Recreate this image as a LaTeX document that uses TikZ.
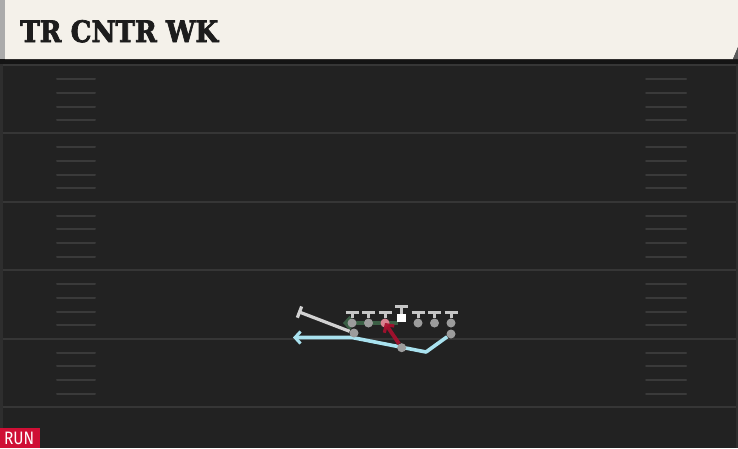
\documentclass[tikz,border=0pt]{standalone}
\usepackage{fontspec}
\usetikzlibrary{arrows.meta}
\newfontfamily\titlefont{DejaVu Serif Bold}[FakeBold=2.5]
\newfontfamily\runfont{Fira Sans}
\definecolor{fieldbg}{HTML}{222222}
\definecolor{yardcol}{HTML}{363636}
\definecolor{hashcol}{HTML}{3A3A3A}
\definecolor{edgecol}{HTML}{2E2E2E}
\definecolor{shadowcol}{HTML}{141414}
\definecolor{cream}{HTML}{F4F1EA}
\definecolor{stripcol}{HTML}{ABABAB}
\definecolor{foldcol}{HTML}{5A5A5A}
\definecolor{titlecol}{HTML}{1C1C1C}
\definecolor{runred}{HTML}{CF0F35}
\definecolor{tcol}{HTML}{C6C6C6}
\definecolor{dotcol}{HTML}{9C9C9C}
\definecolor{pinkdot}{HTML}{D98391}
\definecolor{routegray}{HTML}{D2D2D2}
\definecolor{motionblue}{HTML}{A9E2EF}
\definecolor{greencol}{HTML}{3B5F45}
\definecolor{redcol}{HTML}{A8102E}
\pgfdeclarelayer{field}
\pgfdeclarelayer{routes}
\pgfsetlayers{field,routes,main}
\begin{document}
\begin{tikzpicture}[x=1pt,y=-1pt,
  yardline/.style={draw=yardcol, line width=2pt},
  hash/.style={draw=hashcol, line width=2pt, line cap=round},
  player/.style={circle, fill=dotcol, inner sep=0pt, minimum size=9pt},
  centerbox/.style={rectangle, fill=white, inner sep=0pt, minimum size=8.5pt},
  block/.style={draw=tcol, line width=3pt, -{Bar[width=13pt,line width=3.5pt]}},
  route/.style={draw=routegray, line width=3.2pt, -{Bar[width=12pt,line width=3.2pt]}},
  motion/.style={draw=motionblue, line width=3.6pt, line join=round, -{Straight Barb[length=5.5pt,width=12pt,line width=3pt]}},
  greenarrow/.style={draw=greencol, line width=4pt, -{Straight Barb[length=5.5pt,width=12pt,line width=3pt]}},
  redarrow/.style={draw=redcol, line width=3.8pt, draw opacity=0.92, -{Straight Barb[length=5.5pt,width=12pt,line width=3.2pt]}}
]
\useasboundingbox (0,0) rectangle (738,448);
\begin{pgfonlayer}{field}
  \fill[fieldbg] (0,0) rectangle (738,448);
  \foreach \L in {65,133.4,201.8,270.2,338.6,407}
    \draw[yardline] (0,\L) -- (738,\L);
  \foreach \L in {65,133.4,201.8,270.2,338.6}
    \foreach \d in {14,27.5,41.5,55} {
      \draw[hash] (57,\L+\d) -- (95,\L+\d);
      \draw[hash] (646,\L+\d) -- (686,\L+\d);
    }
  \fill[edgecol] (0,60) rectangle (2.5,448);
  \fill[edgecol] (735.5,60) rectangle (738,448);
  \fill[shadowcol] (0,59) rectangle (738,64);
  \fill[cream] (5,0) -- (738,0) -- (738,47) -- (733,59) -- (5,59) -- cycle;
  \fill[stripcol] (0,0) rectangle (5,59);
  \fill[foldcol] (738,47) -- (738,59) -- (733,59) -- cycle;
\end{pgfonlayer}

\node[anchor=south west, inner sep=0pt, text=titlecol] (title) at (20,42.7)
  {\resizebox{198pt}{22pt}{\titlefont TR CNTR WK}};

\node[fill=runred, anchor=south west, inner sep=0pt, minimum width=40pt, minimum height=20pt] (runbox) at (0,448) {};
\node[anchor=south west, inner sep=0pt, text=white] (runtext) at (4,444.7)
  {\resizebox{30pt}{12.4pt}{\runfont RUN}};

% offensive players
\foreach \i/\x in {1/352,2/368.5,5/418,6/434.5,7/451}
  \node[player] (p\i) at (\x,323) {};
\node[player, fill=pinkdot] (p3) at (385,323) {};
\node[centerbox] (p4) at (401.5,318) {};
\node[player] (qb) at (354,333) {};
\node[player] (rb) at (401.7,347.7) {};
\node[player] (wb) at (451,334) {};

% block targets
\foreach \i/\x in {1/352,2/368.5,3/385,5/418,6/434.5,7/451}
  \coordinate (t\i) at (\x,310.5);
\coordinate (t4) at (401.5,304.5);
\coordinate (qbend) at (298,311.5);
\coordinate (m1) at (426,352);
\coordinate (m2) at (352,337.5);
\coordinate (m3) at (293,337.5);
\coordinate (g0) at (398,323);
\coordinate (g1) at (343,323);

\begin{pgfonlayer}{routes}
  \draw[greenarrow] (g0) -- (g1);
  \draw[motion] (wb) -- (m1) -- (m2) -- (m3);
  \draw[route] (qb) -- (qbend);
  \foreach \i in {1,2,3,4,5,6,7}
    \draw[block] (p\i) -- (t\i);
\end{pgfonlayer}

\draw[redarrow] (rb) -- (p3.center);
\end{tikzpicture}
\end{document}
